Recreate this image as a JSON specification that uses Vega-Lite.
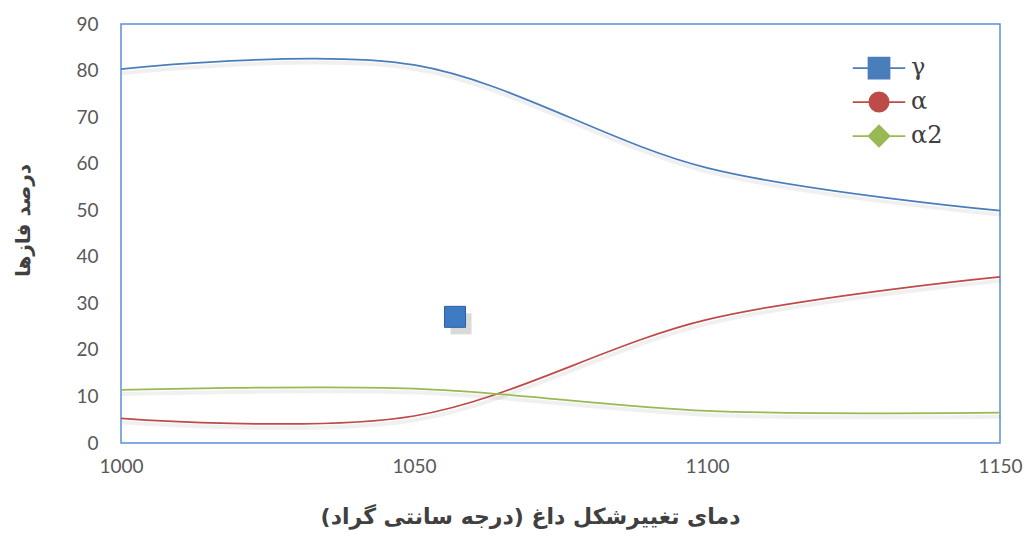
{
  "$schema": "https://vega.github.io/schema/vega-lite/v6.json",
  "autosize": "none",
  "width": 879,
  "height": 419,
  "padding": {"left": 121, "top": 24, "right": 25, "bottom": 95},
  "background": "white",
  "config": {
    "view": {"stroke": "#5b8ed8", "strokeWidth": 1.5},
    "axis": {"grid": false, "domain": false, "ticks": false, "labelFont": "Lato", "labelFontSize": 19, "labelColor": "#595959", "titleFont": "DejaVu Sans", "titleFontWeight": "bold", "titleFontSize": 19, "titleColor": "#404040", "labelFlush": false, "labelOverlap": false}
  },
  "datasets": {
    "curves": [
      {"t": 1000, "s": "γ", "v": 80.3},
      {"t": 1050, "s": "γ", "v": 81.2},
      {"t": 1100, "s": "γ", "v": 59.1},
      {"t": 1150, "s": "γ", "v": 49.9},
      {"t": 1000, "s": "α", "v": 5.3},
      {"t": 1050, "s": "α", "v": 5.8},
      {"t": 1100, "s": "α", "v": 26.5},
      {"t": 1150, "s": "α", "v": 35.7},
      {"t": 1000, "s": "α2", "v": 11.4},
      {"t": 1050, "s": "α2", "v": 11.7},
      {"t": 1100, "s": "α2", "v": 6.9},
      {"t": 1150, "s": "α2", "v": 6.5}
    ],
    "stray": [{"t": 1057, "v": 27.1}]
  },
  "layer": [
    {
      "data": {"name": "curves"},
      "mark": {"type": "line", "interpolate": "cardinal", "strokeWidth": 4, "color": "#000000", "opacity": 0.06, "xOffset": 1, "yOffset": 4},
      "encoding": {
        "x": {"field": "t", "type": "quantitative"},
        "y": {"field": "v", "type": "quantitative"},
        "detail": {"field": "s"}
      }
    },
    {
      "data": {"name": "curves"},
      "mark": {"type": "line", "interpolate": "cardinal", "strokeWidth": 1.75},
      "encoding": {
        "x": {"field": "t", "type": "quantitative", "scale": {"domain": [1000, 1150], "nice": false}, "axis": {"values": [1000, 1050, 1100, 1150], "format": "d", "labelPadding": 14, "title": "دمای تغییرشکل داغ (درجه سانتی گراد)", "titleFontSize": 22, "titlePadding": 30, "titleX": 409}},
        "y": {"field": "v", "type": "quantitative", "scale": {"domain": [0, 90], "nice": false}, "axis": {"values": [0, 10, 20, 30, 40, 50, 60, 70, 80, 90], "labelPadding": 23, "title": "درصد فازها", "titleFontSize": 20, "titlePadding": 42, "titleY": 196}},
        "color": {
          "field": "s", "type": "nominal",
          "scale": {"domain": ["γ", "α", "α2"], "range": ["#4a7ebb", "#be4b48", "#98b954"]},
          "legend": {
            "title": null,
            "orient": "none",
            "legendX": 746,
            "legendY": 32,
            "padding": 0,
            "symbolSize": 441,
            "rowPadding": 6,
            "labelOffset": 20,
            "labelFont": "DejaVu Serif",
            "labelFontSize": 24,
            "labelColor": "#404040",
            "encode": {
              "symbols": {
                "update": {
                  "shape": {"signal": "datum.value === 'γ' ? 'M-2.5,0H-1M1,0H2.5M-1,-1H1V1H-1Z' : datum.value === 'α' ? 'M-2.5,0H-0.92M0.92,0H2.5M-0.92,0A0.92,0.92,0,1,1,0.92,0A0.92,0.92,0,1,1,-0.92,0Z' : 'M-2.5,0H-1M1,0H2.5M-1,0L0,-1L1,0L0,1Z'"},
                  "fill": {"scale": "color", "field": "value"},
                  "stroke": {"scale": "color", "field": "value"},
                  "strokeWidth": {"value": 1.75},
                  "opacity": {"value": 1}
                }
              }
            }
          }
        }
      }
    },
    {
      "data": {"name": "stray"},
      "mark": {"type": "point", "shape": "square", "size": 441, "filled": true, "color": "#000000", "opacity": 0.15, "xOffset": 6, "yOffset": 7},
      "encoding": {
        "x": {"field": "t", "type": "quantitative"},
        "y": {"field": "v", "type": "quantitative"}
      }
    },
    {
      "data": {"name": "stray"},
      "mark": {"type": "point", "shape": "square", "size": 441, "filled": true, "fill": "#3f7ac4", "stroke": "#2c5f9e", "strokeWidth": 1, "opacity": 1},
      "encoding": {
        "x": {"field": "t", "type": "quantitative"},
        "y": {"field": "v", "type": "quantitative"}
      }
    }
  ]
}
